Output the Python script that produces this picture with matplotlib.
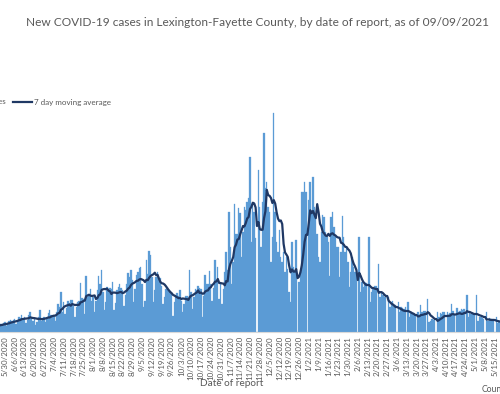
import matplotlib
matplotlib.use('Agg')
import matplotlib.pyplot as plt
import matplotlib.dates as mdates
from matplotlib.lines import Line2D
import pandas as pd

plt.rcParams['font.family'] = ['Lato', 'DejaVu Sans']

TITLE = 'New COVID-19 cases in Lexington-Fayette County, by date of report, as of 09/09/2021'
START = '2020-05-16'

# daily new cases, one row per week (Sat..Fri)
new_cases = [
    14, 8, 10, 13, 12, 14, 13,          # 5/16/2020
    16, 10, 9, 18, 16, 17, 19,          # 5/23
    20, 12, 16, 22, 24, 22, 24,         # 5/30
    26, 16, 22, 30, 28, 34, 26,         # 6/6
    30, 18, 24, 34, 40, 28, 22,         # 6/13
    28, 14, 20, 30, 44, 22, 24,         # 6/20
    30, 20, 26, 38, 44, 34, 32,         # 6/27
    34, 22, 40, 56, 50, 80, 40,         # 7/4
    60, 36, 48, 62, 58, 64, 64,         # 7/11
    52, 30, 50, 60, 62, 98, 68,         # 7/18
    66, 36, 112, 70, 72, 86, 62,        # 7/25
    70, 40, 62, 84, 112, 96, 124,       # 8/1
    80, 44, 60, 90, 84, 88, 86,         # 8/8
    100, 44, 58, 84, 90, 96, 88,        # 8/15
    84, 52, 74, 96, 118, 110, 124,      # 8/22
    104, 60, 86, 114, 120, 128, 130,    # 8/29
    96, 50, 62, 144, 116, 162, 154,     # 9/5
    110, 60, 84, 110, 120, 108, 108,    # 9/12
    92, 56, 70, 86, 90, 84, 82,         # 9/19
    76, 32, 60, 74, 78, 72, 84,         # 9/26
    62, 40, 56, 72, 72, 64, 124,        # 10/3
    80, 46, 70, 86, 84, 92, 88,         # 10/10
    86, 30, 72, 114, 96, 96, 122,       # 10/17
    96, 62, 88, 144, 100, 130, 66,      # 10/24
    96, 56, 86, 120, 160, 124, 240,     # 10/31
    170, 96, 140, 256, 196, 196, 248,   # 11/7
    238, 150, 200, 250, 244, 260, 268,  # 11/14
    350, 180, 258, 240, 188, 0, 324,    # 11/21
    250, 170, 260, 398, 288, 300, 250,  # 11/28
    240, 140, 190, 438, 240, 180, 160,  # 12/5
    204, 150, 140, 160, 120, 150, 126,  # 12/12
    80, 60, 180, 130, 120, 184, 0,      # 12/19
    100, 120, 280, 280, 300, 280, 0,    # 12/26
    264, 300, 240, 310, 250, 230, 196,  # 1/2/2021
    150, 140, 200, 234, 230, 200, 190,  # 1/9
    180, 112, 230, 240, 210, 190, 170,  # 1/16
    170, 110, 160, 232, 190, 160, 168,  # 1/23
    140, 90, 120, 150, 130, 120, 118,   # 1/30
    0, 190, 80, 100, 90, 100, 98,       # 2/6
    0, 190, 60, 80, 88, 92, 92,         # 2/13
    0, 136, 70, 80, 74, 70, 74,         # 2/20
    0, 70, 50, 60, 62, 54, 54,          # 2/27
    0, 60, 40, 50, 48, 46, 50,          # 3/6
    0, 60, 30, 40, 36, 38, 34,          # 3/13
    0, 40, 34, 54, 40, 42, 42,          # 3/20
    0, 66, 20, 22, 26, 24, 24,          # 3/27
    0, 40, 30, 38, 36, 40, 40,          # 4/3
    0, 40, 34, 38, 56, 42, 35,          # 4/10
    0, 48, 40, 42, 46, 44, 46,          # 4/17
    0, 74, 30, 40, 36, 36, 36,          # 4/24
    0, 74, 22, 30, 30, 28, 26,          # 5/1
    0, 40, 22, 28, 26, 26, 26,          # 5/8
    0, 30, 18, 22, 24, 22, 24,          # 5/15
]

dates = pd.date_range(START, periods=len(new_cases), freq='D')
ma7 = pd.Series(new_cases, index=dates).rolling(7).mean()

tick_dates = pd.date_range('2020-05-30', '2021-05-15', freq='7D')
tick_labels = [f'{d.month}/{d.day}/{d.year}' for d in tick_dates]

BAR_COLOR = '#5B9BD5'
LINE_COLOR = '#1F3864'
TEXT_COLOR = '#595959'

W, H = 500, 394
fig = plt.figure(figsize=(W / 100, H / 100), dpi=100)
# plot area is wider than the visible crop; baseline sits at y=332px
ax = fig.add_axes([0, (H - 332) / H, 1, 232 / H])

ax.bar(dates, new_cases, width=1.0, color=BAR_COLOR,
       edgecolor=BAR_COLOR, linewidth=0.2)
ax.plot(ma7.index, ma7.values, color=LINE_COLOR, linewidth=1.6)

px_per_day = 1.4
x0 = mdates.date2num(pd.Timestamp('2020-05-30')) - 5 / px_per_day
ax.set_xlim(x0, x0 + W / px_per_day)
ax.set_ylim(0, 464)

ax.set_xticks(tick_dates)
ax.set_xticklabels(tick_labels, rotation=90, fontsize=5.8, color=TEXT_COLOR)
ax.tick_params(axis='x', length=0, pad=3)
ax.set_yticks([])
for s in ['left', 'right', 'top']:
    ax.spines[s].set_visible(False)
ax.spines['bottom'].set_color('#D9D9D9')

fig.text(257 / W, 1 - 22 / H, TITLE, ha='center', va='center',
         fontsize=8.6, color=TEXT_COLOR)

# legend, partly cut off at the left edge like the reference
ly = 1 - 102 / H
fig.text(6 / W, ly, 'New cases', ha='right', va='center', fontsize=5.8, color=TEXT_COLOR)
fig.add_artist(Line2D([13 / W, 32 / W], [ly, ly], color=LINE_COLOR, linewidth=1.6))
fig.text(34 / W, ly, '7 day moving average', ha='left', va='center',
         fontsize=5.8, color=TEXT_COLOR)

fig.text(232 / W, 1 - 384 / H, 'Date of report', ha='center', va='center',
         fontsize=7.2, color=TEXT_COLOR)
fig.text(482 / W, 1 - 389 / H, 'Count', ha='left', va='center',
         fontsize=6.2, color=TEXT_COLOR)

fig.savefig('out.png', dpi=100)
